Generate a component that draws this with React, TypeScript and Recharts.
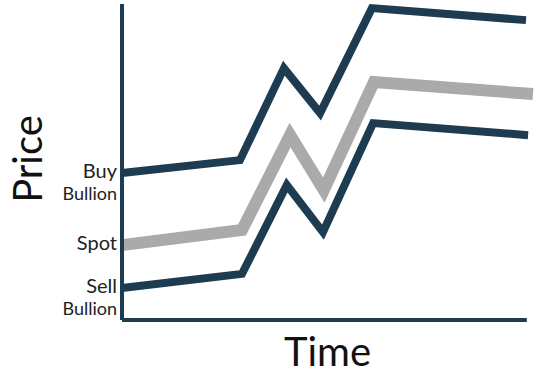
import React from 'react';
import { LineChart, Line, XAxis, YAxis, Label, ReferenceLine } from 'recharts';

const NAVY = '#1d3c51';
const GREY = '#aaaaaa';
const FONT = 'Lato, "Open Sans", sans-serif';

// time positions (0-100) and price levels (0-100)
const buyTime = [0, 28.7, 39.4, 48.2, 60.8, 98.3];
const buyPrice = [46.5, 50.6, 79.7, 65.5, 98.7, 94.9];
const spotTime = [0, 29.2, 40.9, 49.1, 61.3, 100];
const spotPrice = [23.7, 28.5, 58.5, 41.1, 75.3, 71.5];
const sellTime = [0, 29.2, 40.1, 48.9, 61.1, 98.8];
const sellPrice = [10.1, 14.6, 42.7, 27.8, 62.3, 58.5];

const tickValues = [46.5, 23.7, 10.1];
const tickLabels = [['Buy', 'Bullion'], ['Spot'], ['Sell', 'Bullion']];

const toPoints = (t: number[], p: number[]) => t.map((time, i) => ({ time, price: p[i] }));

const buyData = toPoints(buyTime, buyPrice);
const spotData = toPoints(spotTime, spotPrice);
const sellData = toPoints(sellTime, sellPrice);

function PriceTick(props: any) {
  const { x, y, payload } = props;
  const idx = tickValues.indexOf(payload.value);
  const lines = tickLabels[idx] || [];
  return (
    <g>
      {lines.map((t, i) => (
        <text
          key={t}
          x={x + 3}
          y={y + (i === 0 ? 5 : 27)}
          textAnchor="end"
          fill="#222"
          fontFamily={FONT}
          fontSize={i === 0 ? 20 : 18}
        >
          {t}
        </text>
      ))}
    </g>
  );
}

function PriceTitle(props: any) {
  const vb = props.viewBox || {};
  const cy = vb.y + vb.height / 2 - 3;
  return (
    <text
      x={42}
      y={cy}
      transform={`rotate(-90, 42, ${cy})`}
      textAnchor="middle"
      fill="#111"
      fontFamily={FONT}
      fontSize={40}
    >
      Price
    </text>
  );
}

function TimeTitle(props: any) {
  const vb = props.viewBox || {};
  const cx = vb.x + vb.width / 2;
  return (
    <text x={cx} y={366} textAnchor="middle" fill="#111" fontFamily={FONT} fontSize={40}>
      Time
    </text>
  );
}

export default function App() {
  return (
    <div style={{ position: 'absolute', left: 0, top: 0, background: '#fff' }}>
      <LineChart width={548} height={381} margin={{ top: 4, right: 15, bottom: 0, left: 0 }}>
        <XAxis
          type="number"
          dataKey="time"
          domain={[0, 100]}
          tick={false}
          tickLine={false}
          axisLine={false}
          height={61}
        >
          <Label content={<TimeTitle />} />
        </XAxis>
        <YAxis
          type="number"
          domain={[0, 100]}
          ticks={tickValues}
          tick={<PriceTick />}
          tickLine={false}
          axisLine={{ stroke: NAVY, strokeWidth: 4 }}
          width={122}
        >
          <Label content={<PriceTitle />} />
        </YAxis>
        <ReferenceLine
          segment={[{ x: 0, y: 0 }, { x: 98.5, y: 0 }]}
          stroke={NAVY}
          strokeWidth={4}
        />
        <Line data={sellData} dataKey="price" type="linear" stroke={NAVY} strokeWidth={8} dot={false} activeDot={false} isAnimationActive={false} />
        <Line data={spotData} dataKey="price" type="linear" stroke={GREY} strokeWidth={12} dot={false} activeDot={false} isAnimationActive={false} />
        <Line data={buyData} dataKey="price" type="linear" stroke={NAVY} strokeWidth={8} dot={false} activeDot={false} isAnimationActive={false} />
      </LineChart>
    </div>
  );
}
